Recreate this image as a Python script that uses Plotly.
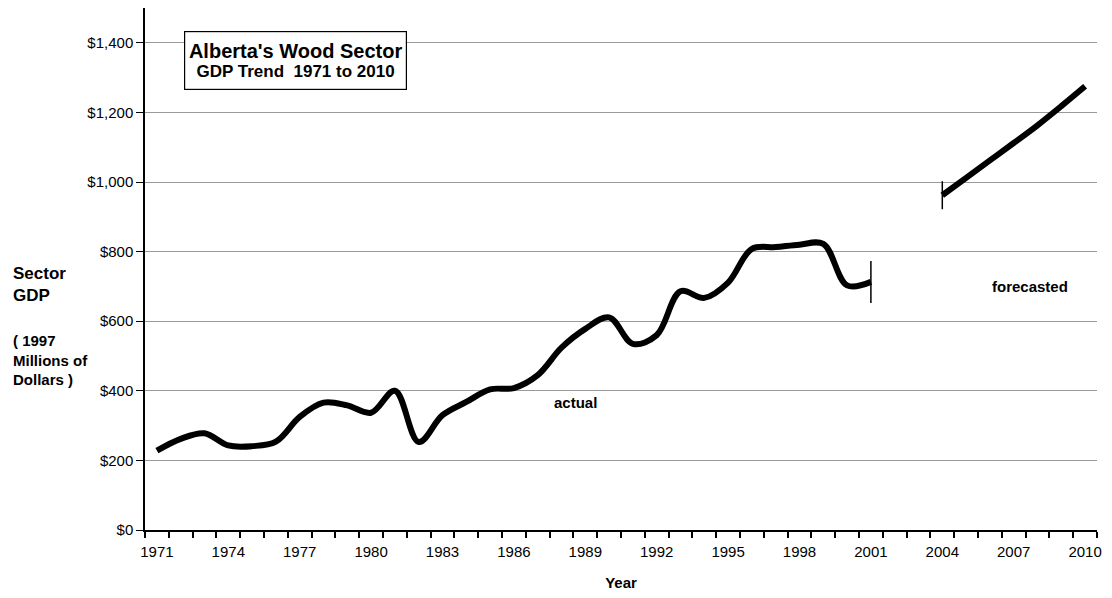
import plotly.graph_objects as go

# Alberta wood sector GDP (1997 millions of dollars)
actual_years = list(range(1971, 2002))
actual_gdp = [228, 262, 278, 243, 241, 254, 325, 366, 358, 337, 400, 253, 330, 368, 404,
              408, 445, 524, 578, 611, 535, 560, 686, 667, 711, 808, 813, 820, 822, 703, 713]

forecast_years = list(range(2004, 2011))
forecast_gdp = [962, 1012, 1062, 1112, 1163, 1218, 1275]

tick_years = list(range(1971, 2011, 3))
y_ticks = list(range(0, 1600, 200))

FONT = "Liberation Sans, Arial, sans-serif"

# page body adds an 8px margin, so the figure is sized to compensate
W, H = 1104, 590
ML, MR, MT, MB = 137, 15, 0, 68
PW, PH = W - ML - MR, H - MT - MB


def px_x(xs):
    # screenshot x -> paper
    return (xs - 8 - ML) / PW


def px_y(ys):
    # screenshot y -> paper
    return (H - MB + 8 - ys) / PH


fig = go.Figure()

# actual series (smoothed like the original)
fig.add_trace(go.Scatter(x=actual_years, y=actual_gdp, mode='lines', name='actual',
                         line=dict(color='black', width=6, shape='spline', smoothing=1)))

# forecast series
fig.add_trace(go.Scatter(x=forecast_years, y=forecast_gdp, mode='lines', name='forecasted',
                         line=dict(color='black', width=6, shape='spline', smoothing=1)))

# vertical end markers
fig.add_trace(go.Scatter(x=[actual_years[-1]], y=[actual_gdp[-1]], mode='markers',
                         marker=dict(symbol='line-ns', size=30, line=dict(color='black', width=1.5))))
fig.add_trace(go.Scatter(x=[forecast_years[0]], y=[forecast_gdp[0]], mode='markers',
                         marker=dict(symbol='line-ns', size=20, line=dict(color='black', width=1.5))))

fig.update_layout(
    width=W, height=H,
    margin=dict(l=ML, r=MR, t=MT, b=MB),
    paper_bgcolor='white', plot_bgcolor='white',
    showlegend=False,
    font=dict(family=FONT, color='black', size=15),
)

fig.update_xaxes(
    range=[1970.5, 2010.5],
    tickmode='array', tickvals=tick_years, ticktext=[str(y) for y in tick_years],
    ticks='', showgrid=False, zeroline=False,
    showline=True, linecolor='black', linewidth=1.5,
    tickfont=dict(size=15), ticklabelstandoff=7,
    minor=dict(ticks='outside', tickmode='linear', tick0=1970.5, dtick=1,
               ticklen=6, tickcolor='black', tickwidth=1.5, showgrid=False),
    title=dict(text='<b>Year</b>', font=dict(size=15), standoff=19),
)

fig.update_yaxes(
    range=[0, 1500],
    tickmode='array', tickvals=y_ticks, ticktext=[f"${v:,}" for v in y_ticks],
    ticks='outside', ticklen=7, tickcolor='black', tickwidth=1,
    showgrid=True, gridcolor='#9a9a9a', gridwidth=1,
    zeroline=False,
    showline=True, linecolor='black', linewidth=1.5,
    tickfont=dict(size=15),
)

# title box
fig.add_annotation(
    xref='paper', yref='paper', x=px_x(184), y=px_y(31), xanchor='left', yanchor='top',
    text="<b><span style='font-size:20px'>Alberta's Wood Sector</span></b><br>"
         "<b><span style='font-size:17px'>GDP Trend  1971 to 2010</span></b>",
    showarrow=False, align='center',
    width=217, height=53, borderpad=2,
    bordercolor='black', borderwidth=1.2, bgcolor='white',
)

# y-axis label
fig.add_annotation(
    xref='paper', yref='paper', x=px_x(11), y=px_y(284), xanchor='left', yanchor='middle',
    text="<b>Sector<br>GDP</b>", showarrow=False, align='left', font=dict(size=17),
)
fig.add_annotation(
    xref='paper', yref='paper', x=px_x(11), y=px_y(360), xanchor='left', yanchor='middle',
    text="<b>( 1997<br>Millions of<br>Dollars )</b>", showarrow=False, align='left',
    font=dict(size=15),
)

fig.add_annotation(xref='paper', yref='paper', x=px_x(575), y=px_y(402),
                   xanchor='center', yanchor='middle',
                   text='<b>actual</b>', showarrow=False, font=dict(size=15))
fig.add_annotation(xref='paper', yref='paper', x=px_x(1030), y=px_y(286),
                   xanchor='center', yanchor='middle',
                   text='<b>forecasted</b>', showarrow=False, font=dict(size=15))

fig.write_html("out.html")
